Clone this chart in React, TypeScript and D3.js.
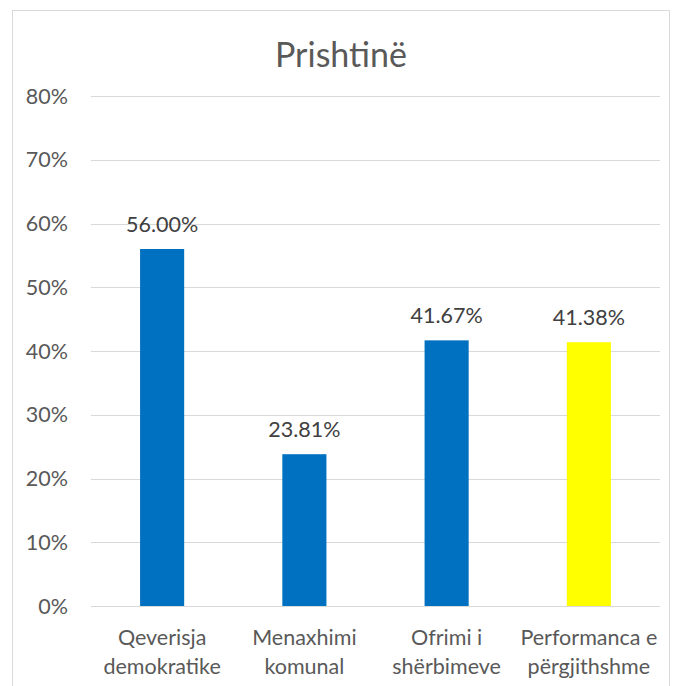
import React from "react";
import * as d3 from "d3";

const categories: string[][] = [
  ["Qeverisja", "demokratike"],
  ["Menaxhimi", "komunal"],
  ["Ofrimi i", "shërbimeve"],
  ["Performanca e", "përgjithshme"],
];
const values: number[] = [56.0, 23.81, 41.67, 41.38];
const barColors: string[] = ["#0070C0", "#0070C0", "#0070C0", "#FFFF00"];
const yTicks: number[] = [0, 10, 20, 30, 40, 50, 60, 70, 80];
const title = "Prishtinë";

const W = 675;
const H = 686;
const FONT = "Lato, 'Open Sans', sans-serif";

export default function App() {
  const left = 91;
  const right = 660;
  const top = 96;
  const bottom = 606;

  const x = d3
    .scaleBand<number>()
    .domain(values.map((_, i) => i))
    .range([left, right])
    .paddingInner(0.69)
    .paddingOuter(0.345);
  const y = d3.scaleLinear().domain([0, 80]).range([bottom, top]);

  return (
    <div style={{ position: "absolute", left: 0, top: 0 }}>
      <svg width={W} height={H} style={{ display: "block", background: "#fff" }}>
        <rect x={12.5} y={10.5} width={657} height={690} fill="#fff" stroke="#D9D9D9" strokeWidth={1} />
        <text
          x={341}
          y={67}
          textAnchor="middle"
          fontFamily={FONT}
          fontSize={34}
          fill="#595959"
        >
          {title}
        </text>
        {yTicks.map((t) => (
          <g key={t}>
            <line
              x1={left}
              x2={right}
              y1={Math.round(y(t)) + 0.5}
              y2={Math.round(y(t)) + 0.5}
              stroke="#D9D9D9"
              strokeWidth={1}
            />
            <text
              x={68}
              y={y(t)}
              dy="0.35em"
              textAnchor="end"
              fontFamily={FONT}
              fontSize={21.5}
              fill="#595959"
            >
              {d3.format(".0f")(t)}%
            </text>
          </g>
        ))}
        {values.map((v, i) => (
          <g key={i}>
            <rect
              x={x(i)!}
              y={y(v)}
              width={x.bandwidth()}
              height={y(0) - y(v)}
              fill={barColors[i]}
            />
            <text
              x={x(i)! + x.bandwidth() / 2}
              y={y(v) - 17}
              textAnchor="middle"
              fontFamily={FONT}
              fontSize={21.5}
              fill="#404040"
            >
              {d3.format(".2f")(v)}%
            </text>
            {categories[i].map((line, j) => (
              <text
                key={j}
                x={x(i)! + x.bandwidth() / 2}
                y={637 + j * 29}
                dy="0.35em"
                textAnchor="middle"
                fontFamily={FONT}
                fontSize={21.5}
                fill="#595959"
              >
                {line}
              </text>
            ))}
          </g>
        ))}
      </svg>
    </div>
  );
}
